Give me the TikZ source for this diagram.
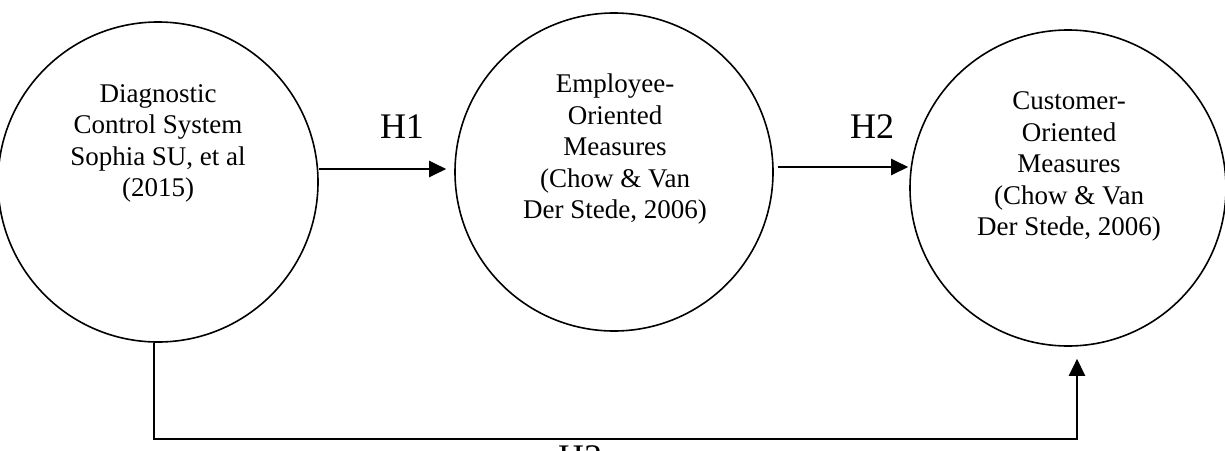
\documentclass[tikz,border=0pt]{standalone}
\usepackage{fontspec}
\setmainfont{Liberation Serif}
\usetikzlibrary{arrows.meta}
\begin{document}
\begin{tikzpicture}[x=1pt,y=1pt,
  bubble/.style={circle,draw=black,line width=1.6pt,inner sep=0pt},
  btext/.style={align=center,font=\fontsize{27}{31.5}\selectfont,inner sep=0pt},
  hlabel/.style={font=\fontsize{36}{40}\selectfont,inner sep=0pt},
  arr/.style={line width=2.2pt,-{Triangle[length=17pt,width=16pt]}}]
\useasboundingbox (0,0) rectangle (1225,-450);
\node[bubble,minimum size=320pt] (c1) at (158,-182) {};
\node[bubble,minimum size=318pt] (c2) at (614,-172) {};
\node[bubble,minimum size=316pt] (c3) at (1068,-188) {};
\node[btext] (t1) at (158,-143.5) {Diagnostic\\Control System\\Sophia SU, et al\\(2015)};
\node[btext] (t2) at (615,-149.5) {Employee-\\Oriented\\Measures\\(Chow \& Van\\Der Stede, 2006)};
\node[btext] (t3) at (1069,-166.5) {Customer-\\Oriented\\Measures\\(Chow \& Van\\Der Stede, 2006)};
\node[hlabel] (h1) at (402,-127) {H1};
\node[hlabel] (h2) at (872,-127) {H2};
\node[hlabel] (h3) at (580,-458) {H3};
\draw[arr,shorten >=8pt] ([yshift=13pt]c1.east) -- ([yshift=3pt]c2.west);
\draw[arr,shorten <=4pt,shorten >=1pt] ([yshift=5pt]c2.east) -- ([yshift=21pt]c3.west);
\draw[arr,shorten >=12pt] ([xshift=-4pt]c1.south) -- ++(0,-96) -| ([xshift=9pt]c3.south);
\end{tikzpicture}
\end{document}
